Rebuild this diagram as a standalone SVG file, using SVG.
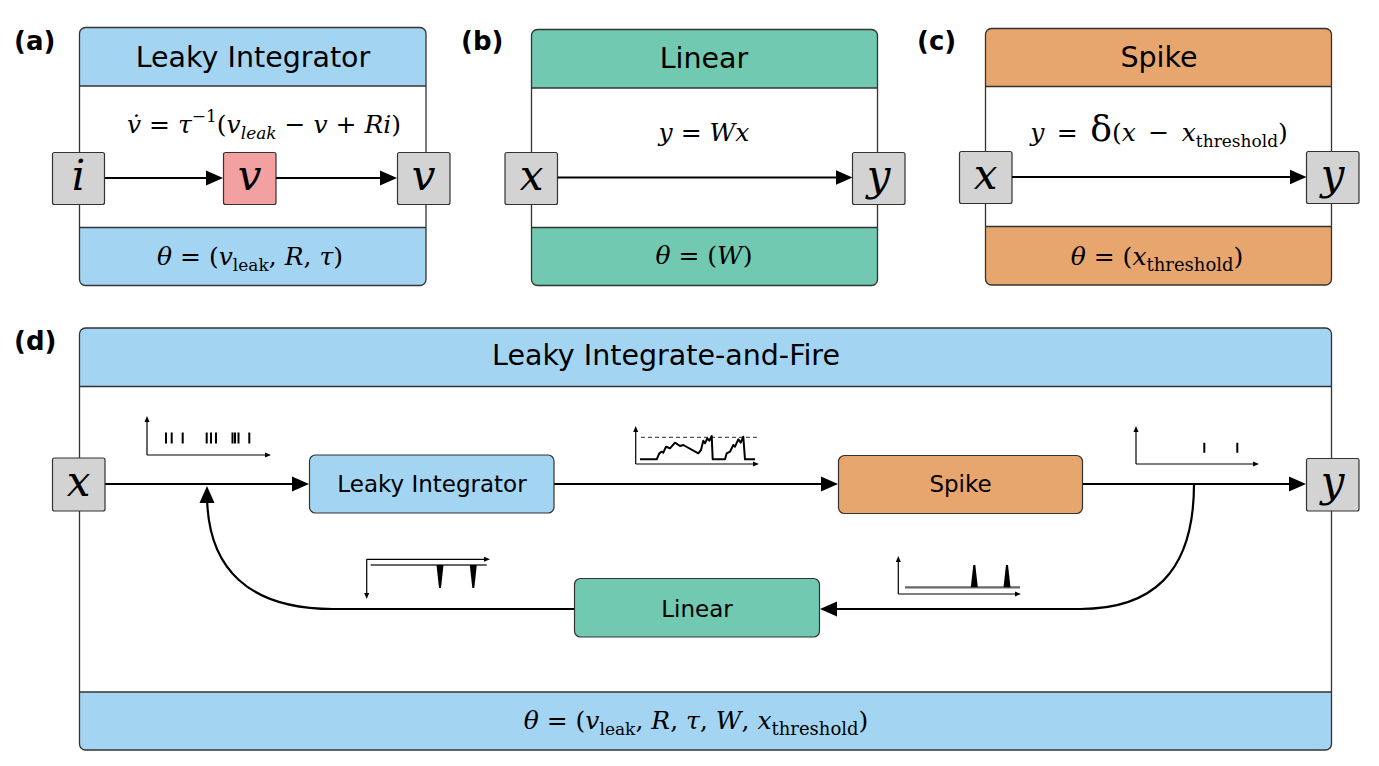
<svg xmlns="http://www.w3.org/2000/svg" width="1379" height="766" viewBox="0 0 1379 766">
<style>
.hdr{font-family:"DejaVu Sans",sans-serif;font-size:28.5px;text-anchor:middle;fill:#000}
.lbl{font-family:"DejaVu Sans",sans-serif;font-size:23px;text-anchor:middle;fill:#000}
.math{font-family:"DejaVu Serif",serif;font-size:25px;text-anchor:middle;fill:#000}
.it{font-style:italic}
.var{font-family:"DejaVu Serif",serif;font-style:italic;font-size:42px;text-anchor:middle;fill:#000}
.pl{font-family:"DejaVu Sans",sans-serif;font-weight:bold;font-size:26px;fill:#000}
.io{fill:#d3d3d3;stroke:#333;stroke-width:1.2}
.frame{fill:none;stroke:#333;stroke-width:1.3}
.sep{stroke:#333;stroke-width:1.3}
.conn{fill:none;stroke:#000;stroke-width:2.2}
.ax{fill:none;stroke:#000;stroke-width:1.2}
.tick{stroke:#000;stroke-width:2}
.blue{fill:#a3d5f3}
.green{fill:#70c9b0}
.orange{fill:#e8a66f}
</style>
<defs>
<marker id="ah" markerUnits="userSpaceOnUse" markerWidth="18" markerHeight="16" refX="9" refY="8" orient="auto"><path d="M0,0.5 L17,8 L0,15.5 Z" fill="#000"/></marker>
<marker id="sa" markerUnits="userSpaceOnUse" markerWidth="7" markerHeight="6" refX="2" refY="3" orient="auto"><path d="M0,0.5 L6,3 L0,5.5 Z" fill="#000"/></marker>
</defs>
<rect width="1379" height="766" fill="#fff"/>

<!-- panel labels -->
<text class="pl" x="14" y="50">(a)</text>
<text class="pl" x="461" y="50">(b)</text>
<text class="pl" x="917" y="50">(c)</text>
<text class="pl" x="14" y="350">(d)</text>

<!-- Panel a -->
<g id="panel-a">
<rect class="blue" x="79.5" y="27.5" width="346.5" height="258" rx="6"/>
<rect fill="#fff" x="79.5" y="86" width="346.5" height="141.5"/>
<line class="sep" x1="79.5" y1="86" x2="426" y2="86"/>
<line class="sep" x1="79.5" y1="227.5" x2="426" y2="227.5"/>
<rect class="frame" x="79.5" y="27.5" width="346.5" height="258" rx="6"/>
<text class="hdr" x="253" y="66.5">Leaky Integrator</text>
<text class="math" x="264" y="133"><tspan class="it">v&#x307;</tspan> = <tspan class="it">τ</tspan><tspan font-size="17" dy="-11">−1</tspan><tspan dy="11">(</tspan><tspan class="it">v</tspan><tspan class="it" font-size="17" dy="6">leak</tspan><tspan dy="-6"> − </tspan><tspan class="it">v</tspan> + <tspan class="it">Ri</tspan>)</text>
<text class="math" x="250" y="265"><tspan class="it">θ</tspan> = (<tspan class="it">v</tspan><tspan font-size="17" dy="6">leak</tspan><tspan dy="-6">, </tspan><tspan class="it">R</tspan>, <tspan class="it">τ</tspan>)</text>
</g>
<g id="a-in"><rect class="io" x="52.5" y="152.5" width="52" height="52" rx="2"/><text class="var" x="78.5" y="190">i</text></g>
<g id="a-state"><rect x="223.5" y="152.5" width="52.5" height="52" rx="2" fill="#f2a0a0" stroke="#333" stroke-width="1.2"/><text class="var" x="249.5" y="190" font-size="47">v</text></g>
<g id="a-out"><rect class="io" x="397.5" y="152.5" width="52.5" height="52" rx="2"/><text class="var" x="423.5" y="190">v</text></g>

<!-- Panel b -->
<g id="panel-b">
<rect class="green" x="531.5" y="29.5" width="346" height="256" rx="6"/>
<rect fill="#fff" x="531.5" y="88" width="346" height="139.5"/>
<line class="sep" x1="531.5" y1="88" x2="877.5" y2="88"/>
<line class="sep" x1="531.5" y1="227.5" x2="877.5" y2="227.5"/>
<rect class="frame" x="531.5" y="29.5" width="346" height="256" rx="6"/>
<text class="hdr" x="704" y="67.5">Linear</text>
<text class="math" x="704" y="141"><tspan class="it">y</tspan> = <tspan class="it">Wx</tspan></text>
<text class="math" x="704" y="264"><tspan class="it">θ</tspan> = (<tspan class="it">W</tspan>)</text>
</g>
<g id="b-in"><rect class="io" x="505" y="152.5" width="52.5" height="52" rx="2"/><text class="var" x="531.5" y="190">x</text></g>
<g id="b-out"><rect class="io" x="852.5" y="152.5" width="52.5" height="52" rx="2"/><text class="var" x="878.5" y="190">y</text></g>

<!-- Panel c -->
<g id="panel-c">
<rect class="orange" x="985.5" y="28.5" width="346" height="256.5" rx="6"/>
<rect fill="#fff" x="985.5" y="86.5" width="346" height="140"/>
<line class="sep" x1="985.5" y1="86.5" x2="1331.5" y2="86.5"/>
<line class="sep" x1="985.5" y1="226.5" x2="1331.5" y2="226.5"/>
<rect class="frame" x="985.5" y="28.5" width="346" height="256.5" rx="6"/>
<text class="hdr" x="1159" y="66.5">Spike</text>
<text class="math" x="1159" y="141"><tspan class="it">y</tspan>&#x2002;=&#x2002;<tspan font-size="36">δ</tspan>(<tspan class="it">x</tspan>&#x2002;−&#x2002;<tspan class="it">x</tspan><tspan font-size="17" dy="6">threshold</tspan><tspan dy="-6">)</tspan></text>
<text class="math" x="1157" y="265"><tspan class="it">θ</tspan> = (<tspan class="it">x</tspan><tspan font-size="18" dy="6">threshold</tspan><tspan dy="-6">)</tspan></text>
</g>
<g id="c-in"><rect class="io" x="959.5" y="151.5" width="52.5" height="52" rx="2"/><text class="var" x="985.5" y="189">x</text></g>
<g id="c-out"><rect class="io" x="1306.5" y="151.5" width="52.5" height="52" rx="2"/><text class="var" x="1332.5" y="189">y</text></g>

<!-- Panel d -->
<g id="panel-d">
<rect class="blue" x="79.5" y="328" width="1252" height="422" rx="6"/>
<rect fill="#fff" x="79.5" y="386.5" width="1252" height="305.5"/>
<line class="sep" x1="79.5" y1="386.5" x2="1331.5" y2="386.5"/>
<line class="sep" x1="79.5" y1="692" x2="1331.5" y2="692"/>
<rect class="frame" x="79.5" y="328" width="1252" height="422" rx="6"/>
<text class="hdr" x="666" y="365">Leaky Integrate-and-Fire</text>
<text class="math" x="696" y="728.5"><tspan class="it">θ</tspan> = (<tspan class="it">v</tspan><tspan font-size="17" dy="6">leak</tspan><tspan dy="-6">, </tspan><tspan class="it">R</tspan>, <tspan class="it">τ</tspan>, <tspan class="it">W</tspan>, <tspan class="it">x</tspan><tspan font-size="18" dy="6">threshold</tspan><tspan dy="-6">)</tspan></text>
</g>

<!-- connectors -->
<g id="connectors">
<path class="conn" d="M105,178 H215" marker-end="url(#ah)"/>
<path class="conn" d="M276,178 H389" marker-end="url(#ah)"/>
<path class="conn" d="M557.5,177.5 H844.5" marker-end="url(#ah)"/>
<path class="conn" d="M1012,177 H1298.5" marker-end="url(#ah)"/>
<path class="conn" d="M105,484 H301" marker-end="url(#ah)"/>
<path class="conn" d="M554,484 H830" marker-end="url(#ah)"/>
<path class="conn" d="M1083,484 H1298" marker-end="url(#ah)"/>
<path class="conn" d="M1194,484 C1194,575 1150,609 1080,609 H828" marker-end="url(#ah)"/>
<path class="conn" d="M574,609 H333 C250,609 207,570 207,494" marker-end="url(#ah)"/>
</g>

<g id="d-in"><rect class="io" x="52.5" y="458" width="52.5" height="53" rx="2"/><text class="var" x="78.5" y="496">x</text></g>
<g id="d-out"><rect class="io" x="1306.5" y="458.5" width="52.5" height="52.5" rx="2"/><text class="var" x="1332.5" y="496">y</text></g>
<g id="d-leaky"><rect class="blue" x="309.5" y="455" width="244.5" height="58" rx="6" stroke="#333" stroke-width="1.2"/><text class="lbl" x="432" y="492">Leaky Integrator</text></g>
<g id="d-spike"><rect class="orange" x="838.5" y="455.5" width="244" height="58" rx="6" stroke="#333" stroke-width="1.2"/><text class="lbl" x="960.5" y="492">Spike</text></g>
<g id="d-linear"><rect class="green" x="574.5" y="578.5" width="245" height="58.5" rx="6" stroke="#333" stroke-width="1.2"/><text class="lbl" x="697" y="617">Linear</text></g>

<!-- mini plots -->
<g id="plot-input">
<path class="ax" d="M147,455 V420" marker-end="url(#sa)"/>
<path class="ax" d="M147,455 H267" marker-end="url(#sa)"/>
<path class="tick" d="M166,432.5V443.5 M171.7,432.5V443.5 M182.7,432.5V443.5 M206.7,432.5V443.5 M211,432.5V443.5 M216,432.5V443.5 M232.5,432.5V443.5 M235,432.5V443.5 M238.5,432.5V443.5 M249.3,432.5V443.5"/>
</g>
<g id="plot-membrane">
<path class="ax" d="M635.7,464 V430" marker-end="url(#sa)"/>
<path class="ax" d="M635.7,464 H755" marker-end="url(#sa)"/>
<line x1="641" y1="437.3" x2="757" y2="437.3" stroke="#555" stroke-width="1.2" stroke-dasharray="4,3"/>
<polyline fill="none" stroke="#000" stroke-width="2" stroke-linejoin="round" points="640,459.3 656.7,459.3 659.3,453.3 661.7,451.7 663.3,452.7 666,446.7 670,448.3 675,442.7 680,446 683.3,445 698.3,453.3 701,450 703.3,440.7 705,443.3 707.3,438.3 709.3,440.7 711.7,436 712.7,459.3 725,459.3 726.7,453.3 730,451.7 733.3,445 735,446.7 738.3,439.3 740.7,442.7 743.3,436.7 745,459.3 755,459.3"/>
</g>
<g id="plot-output">
<path class="ax" d="M1136,464 V430" marker-end="url(#sa)"/>
<path class="ax" d="M1136,464 H1255" marker-end="url(#sa)"/>
<path class="tick" d="M1204.3,442.7V452.7 M1237.3,442.7V452.7"/>
</g>
<g id="plot-feedback">
<path class="ax" d="M366.7,559.3 H486" marker-end="url(#sa)"/>
<path class="ax" d="M366.7,559.3 V595" marker-end="url(#sa)"/>
<line x1="370.7" y1="565" x2="486.7" y2="565" stroke="#666" stroke-width="2.2"/>
<polygon points="436.5,565 443.5,565 441,588 439,588" fill="#000"/>
<polygon points="469.8,565 476.8,565 474.3,588 472.3,588" fill="#000"/>
</g>
<g id="plot-spikes">
<path class="ax" d="M898.3,594 V560" marker-end="url(#sa)"/>
<path class="ax" d="M898.3,594 H1017" marker-end="url(#sa)"/>
<line x1="905" y1="587.3" x2="1020" y2="587.3" stroke="#666" stroke-width="2.2"/>
<polygon points="970.8,587.3 977.8,587.3 975.3,565 973.3,565" fill="#000"/>
<polygon points="1003.5,587.3 1010.5,587.3 1008,565 1006,565" fill="#000"/>
</g>
</svg>
